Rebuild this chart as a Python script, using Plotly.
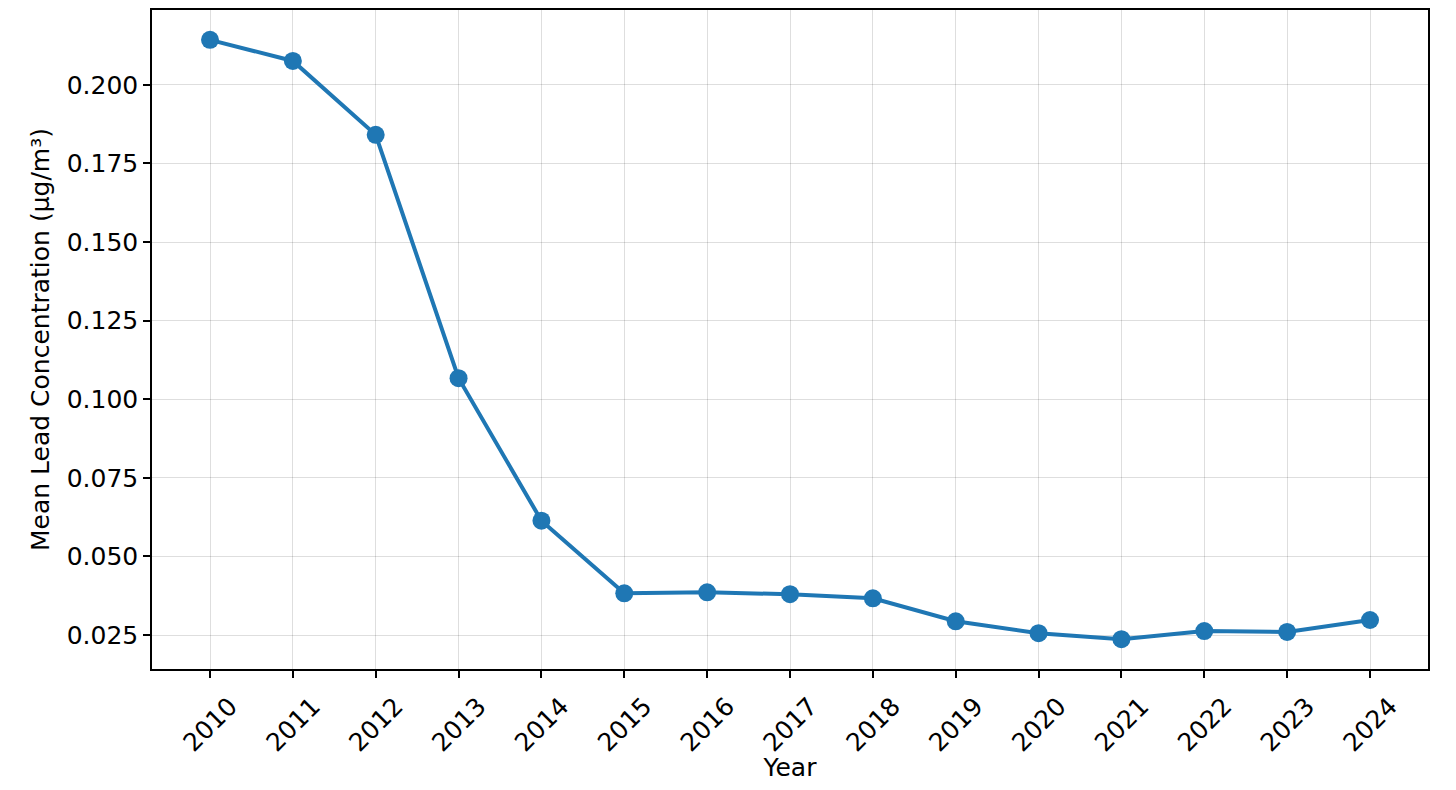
import plotly.graph_objects as go

# anos e concentração média de chumbo (µg/m³)
anos = [2010, 2011, 2012, 2013, 2014, 2015, 2016, 2017, 2018, 2019, 2020, 2021, 2022, 2023, 2024]
chumbo = [0.2143, 0.2076, 0.1841, 0.1067, 0.0614, 0.0383, 0.0386, 0.0380, 0.0367,
          0.0294, 0.0256, 0.0237, 0.0263, 0.0260, 0.0298]

y_ticks = [0.025, 0.050, 0.075, 0.100, 0.125, 0.150, 0.175, 0.200]

fonte = dict(family='DejaVu Sans', size=25, color='black')
cor_grade = 'rgba(0,0,0,0.13)'

fig = go.Figure(go.Scatter(
    x=anos,
    y=chumbo,
    mode='lines+markers',
    line=dict(color='#1f77b4', width=4),
    marker=dict(color='#1f77b4', size=18),
    showlegend=False,
))

# a página tem 8px de margem no body, por isso a figura é 1440x774
fig.update_layout(
    width=1440, height=774,
    margin=dict(l=144, r=20, t=0, b=113),
    paper_bgcolor='white', plot_bgcolor='white',
    font=fonte,
    xaxis=dict(
        title=dict(text='Year', font=fonte, standoff=6),
        range=[2009.3, 2024.7],
        tickmode='array', tickvals=anos, ticktext=[str(a) for a in anos],
        tickangle=-45, ticklabelshift=20, ticklabelstandoff=4,
        ticks='outside', ticklen=7, tickwidth=1.5, tickcolor='black',
        showline=True, linecolor='black', linewidth=1.5, mirror=True,
        showgrid=True, gridcolor=cor_grade, gridwidth=1,
        zeroline=False,
    ),
    yaxis=dict(
        title=dict(text='Mean Lead Concentration (µg/m³)', font=fonte, standoff=10),
        range=[0.01422, 0.2238],
        tickmode='array', tickvals=y_ticks, ticktext=['%.3f' % v for v in y_ticks],
        ticks='outside', ticklen=7, tickwidth=1.5, tickcolor='black',
        showline=True, linecolor='black', linewidth=1.5, mirror=True,
        showgrid=True, gridcolor=cor_grade, gridwidth=1,
        zeroline=False,
    ),
)

fig.write_html('out.html')
